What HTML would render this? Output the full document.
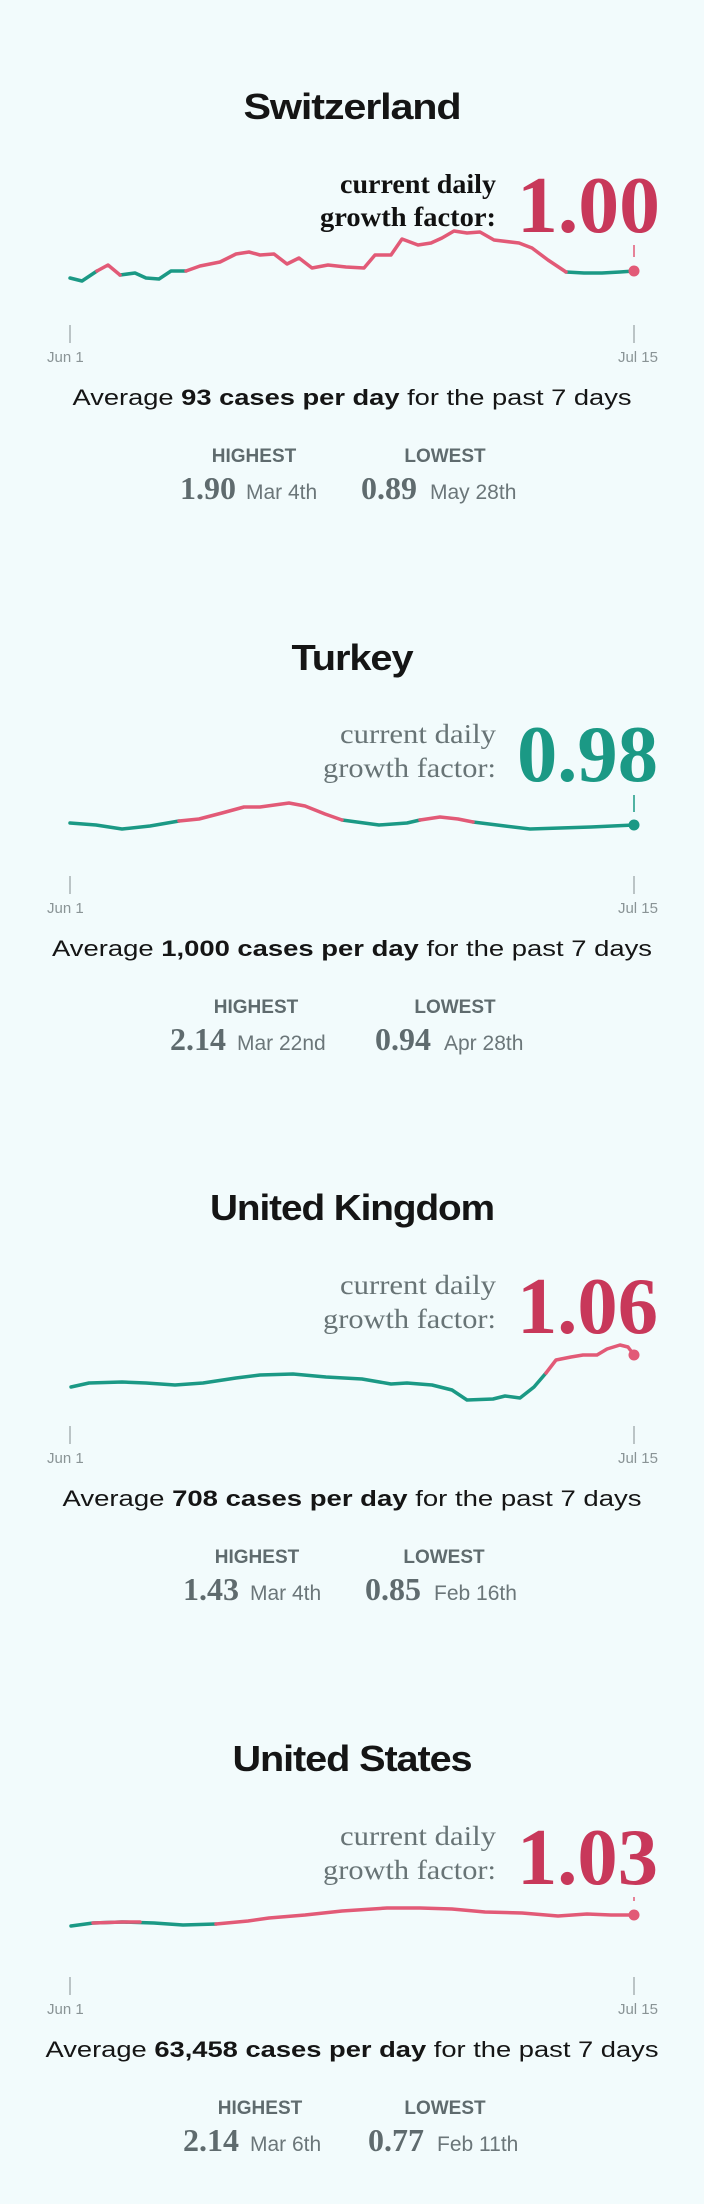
<!DOCTYPE html>
<html><head><meta charset="utf-8"><style>
html,body{margin:0;padding:0;background:#f2fbfc;}
svg{display:block}
.t{font-family:"Liberation Sans",sans-serif;font-weight:bold;font-size:36px;fill:#151515;text-anchor:middle;letter-spacing:-1px}
.lab{font-family:"Liberation Serif",serif;font-size:27px;fill:#687476;text-anchor:end}
.labb{font-family:"Liberation Serif",serif;font-size:27px;fill:#111;font-weight:bold;text-anchor:end}
.num{font-family:"Liberation Serif",serif;font-weight:bold;font-size:80px;text-anchor:end}
.ax{font-family:"Liberation Sans",sans-serif;font-size:15px;fill:#8a9496}
.avg{font-family:"Liberation Sans",sans-serif;font-size:22px;fill:#151515;text-anchor:middle}
.hl{font-family:"Liberation Sans",sans-serif;font-weight:bold;font-size:19px;fill:#5f6b6e;text-anchor:middle}
.v{font-family:"Liberation Serif",serif;font-weight:bold;font-size:32px;fill:#5f6b6e}
.d{font-family:"Liberation Sans",sans-serif;font-size:21px;fill:#6b7679}
.teal{fill:none;stroke:#1b9985;stroke-width:3.5;stroke-linejoin:round;stroke-linecap:round}
.pink{fill:none;stroke:#e25a77;stroke-width:3.5;stroke-linejoin:round;stroke-linecap:round}
.tick{stroke:#a9b2b4;stroke-width:1.5}
</style></head><body>
<svg width="704" height="2204" viewBox="0 0 704 2204" xmlns="http://www.w3.org/2000/svg">
<rect width="704" height="2204" fill="#f2fbfc"/>

<!-- Switzerland -->
<g>
<text class="t" x="352" y="119" textLength="217" lengthAdjust="spacingAndGlyphs">Switzerland</text>
<text class="labb" x="496" y="193" textLength="156" lengthAdjust="spacingAndGlyphs">current daily</text>
<text class="labb" x="496" y="226" textLength="176" lengthAdjust="spacingAndGlyphs">growth factor:</text>
<text class="num" x="660" y="232" fill="#c8385a" textLength="143" lengthAdjust="spacingAndGlyphs">1.00</text>
<line class="tick" x1="70" y1="325" x2="70" y2="343"/><line class="tick" x1="634" y1="325" x2="634" y2="343"/>
<text class="ax" x="47" y="362">Jun 1</text><text class="ax" x="658" y="362" text-anchor="end">Jul 15</text>
<text class="avg" x="352" y="405" textLength="559" lengthAdjust="spacingAndGlyphs">Average <tspan font-weight="bold">93 cases per day</tspan> for the past 7 days</text>
<text class="hl" x="254" y="462">HIGHEST</text><text class="hl" x="445" y="462">LOWEST</text>
<text class="v" x="180" y="499">1.90</text><text class="d" x="246" y="499">Mar 4th</text>
<text class="v" x="361" y="499">0.89</text><text class="d" x="430" y="499">May 28th</text>
</g>
<path class="teal" d="M70,278 L82,281 L97,271 M120,275 L135,273 L146,278 L159,279 L171,271 L186,271 M566,272 L584,273 L602,273 L620,272 L634,271"/>
<path class="pink" d="M97,271 L108,265 L120,275 M186,271 L200,266 L220,262 L236,254 L249,252 L260,255 L274,254 L287,264 L299,258 L312,268 L328,265 L346,267 L364,268 L375,255 L391,255 L402,239 L418,245 L431,243 L442,238 L454,231 L467,233 L480,232 L494,240 L519,243 L532,248 L548,260 L566,272"/>
<line x1="634" y1="245" x2="634" y2="257" stroke="#e25a77" stroke-width="1.5"/>
<circle cx="634" cy="271" r="5.5" fill="#e25a77"/>

<!-- Turkey -->
<g transform="translate(0,551)">
<text class="t" x="352" y="119" textLength="121" lengthAdjust="spacingAndGlyphs">Turkey</text>
<text class="lab" x="496" y="192" textLength="156" lengthAdjust="spacingAndGlyphs">current daily</text>
<text class="lab" x="496" y="226" textLength="173" lengthAdjust="spacingAndGlyphs">growth factor:</text>
<text class="num" x="658" y="230" fill="#1b9985" textLength="141" lengthAdjust="spacingAndGlyphs">0.98</text>
<line class="tick" x1="70" y1="325" x2="70" y2="343"/><line class="tick" x1="634" y1="325" x2="634" y2="343"/>
<text class="ax" x="47" y="362">Jun 1</text><text class="ax" x="658" y="362" text-anchor="end">Jul 15</text>
<text class="avg" x="352" y="405" textLength="600" lengthAdjust="spacingAndGlyphs">Average <tspan font-weight="bold">1,000 cases per day</tspan> for the past 7 days</text>
<text class="hl" x="256" y="462">HIGHEST</text><text class="hl" x="455" y="462">LOWEST</text>
<text class="v" x="170" y="499">2.14</text><text class="d" x="237" y="499">Mar 22nd</text>
<text class="v" x="375" y="499">0.94</text><text class="d" x="444" y="499">Apr 28th</text>
</g>
<path class="teal" d="M70,823 L96,825 L122,829 L150,826 L179,821 M342,820 L379,825 L407,823 L420,820 M473,822 L505,826 L530,829 L591,827 L634,825"/>
<path class="pink" d="M179,821 L199,819 L222,813 L244,807 L260,807 L289,803 L305,806 L325,814 L342,820 M420,820 L440,817 L458,819 L473,822"/>
<line x1="634" y1="795" x2="634" y2="812" stroke="#1b9985" stroke-width="1.5"/>
<circle cx="634" cy="825" r="5.5" fill="#1b9985"/>

<!-- UK -->
<g transform="translate(0,1101)">
<text class="t" x="352" y="119" textLength="284" lengthAdjust="spacingAndGlyphs">United Kingdom</text>
<text class="lab" x="496" y="193" textLength="156" lengthAdjust="spacingAndGlyphs">current daily</text>
<text class="lab" x="496" y="227" textLength="173" lengthAdjust="spacingAndGlyphs">growth factor:</text>
<text class="num" x="658" y="232" fill="#c8385a" textLength="141" lengthAdjust="spacingAndGlyphs">1.06</text>
<line class="tick" x1="70" y1="325" x2="70" y2="343"/><line class="tick" x1="634" y1="325" x2="634" y2="343"/>
<text class="ax" x="47" y="362">Jun 1</text><text class="ax" x="658" y="362" text-anchor="end">Jul 15</text>
<text class="avg" x="352" y="405" textLength="579" lengthAdjust="spacingAndGlyphs">Average <tspan font-weight="bold">708 cases per day</tspan> for the past 7 days</text>
<text class="hl" x="257" y="462">HIGHEST</text><text class="hl" x="444" y="462">LOWEST</text>
<text class="v" x="183" y="499">1.43</text><text class="d" x="250" y="499">Mar 4th</text>
<text class="v" x="365" y="499">0.85</text><text class="d" x="434" y="499">Feb 16th</text>
</g>
<path class="teal" d="M71,1387 L89,1383 L122,1382 L146,1383 L175,1385 L203,1383 L236,1378 L260,1375 L293,1374 L326,1377 L362,1379 L391,1384 L407,1383 L432,1385 L452,1390 L467,1400 L493,1399 L505,1396 L520,1398 L534,1387 L546,1373"/>
<path class="pink" d="M546,1373 L556,1360 L571,1357 L583,1355 L597,1355 L607,1349 L620,1345 L628,1347 L634,1355"/>
<circle cx="634" cy="1355" r="5.5" fill="#e25a77"/>

<!-- US -->
<g transform="translate(0,1652)">
<text class="t" x="352" y="119" textLength="239" lengthAdjust="spacingAndGlyphs">United States</text>
<text class="lab" x="496" y="193" textLength="156" lengthAdjust="spacingAndGlyphs">current daily</text>
<text class="lab" x="496" y="227" textLength="173" lengthAdjust="spacingAndGlyphs">growth factor:</text>
<text class="num" x="658" y="232" fill="#c8385a" textLength="141" lengthAdjust="spacingAndGlyphs">1.03</text>
<line class="tick" x1="70" y1="325" x2="70" y2="343"/><line class="tick" x1="634" y1="325" x2="634" y2="343"/>
<text class="ax" x="47" y="362">Jun 1</text><text class="ax" x="658" y="362" text-anchor="end">Jul 15</text>
<text class="avg" x="352" y="405" textLength="613" lengthAdjust="spacingAndGlyphs">Average <tspan font-weight="bold">63,458 cases per day</tspan> for the past 7 days</text>
<text class="hl" x="260" y="462">HIGHEST</text><text class="hl" x="445" y="462">LOWEST</text>
<text class="v" x="183" y="499">2.14</text><text class="d" x="250" y="499">Mar 6th</text>
<text class="v" x="368" y="499">0.77</text><text class="d" x="437" y="499">Feb 11th</text>
</g>
<path class="teal" d="M71,1926 L93,1923 L122,1922 L154,1923 L183,1925 L216,1924"/>
<path class="pink" d="M93,1923 L122,1922 L140,1922 M216,1924 L248,1921 L269,1918 L305,1915 L342,1911 L387,1908 L420,1908 L452,1909 L485,1912 L522,1913 L558,1916 L587,1914 L611,1915 L634,1915"/>
<line x1="634" y1="1897" x2="634" y2="1901" stroke="#e25a77" stroke-width="1.5"/>
<circle cx="634" cy="1915" r="5.5" fill="#e25a77"/>
</svg>
</body></html>
